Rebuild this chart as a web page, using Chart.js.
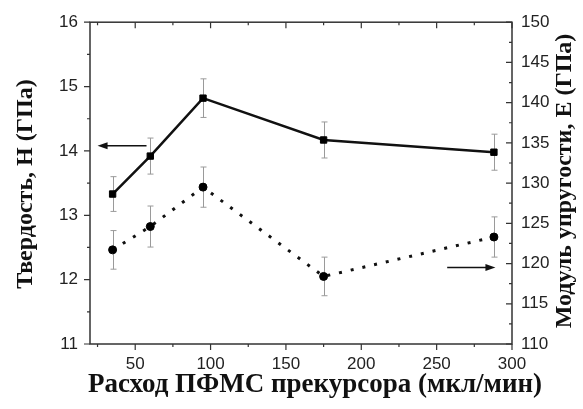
<!DOCTYPE html>
<html lang="ru">
<head>
  <meta charset="UTF-8">
  <title>Твердость и модуль упругости</title>
  <script src="https://cdn.jsdelivr.net/npm/chart.js"></script>
  <style>
    html, body { margin: 0; padding: 0; background: #fff; }
    .wrap { width: 583px; height: 409px; position: relative; }
  </style>
</head>
<body>
  <div class="wrap">
    <canvas id="chart"></canvas>
  </div>

  <script>
    // расход прекурсора, мкл/мин
    const flowRates = [35, 60, 95, 175, 288];
    // твердость H, ГПа (левая ось)
    const hardness = [13.33, 13.92, 14.82, 14.17, 13.98];
    const hardnessErr = [0.27, 0.28, 0.30, 0.28, 0.28];
    // модуль упругости E, ГПа (правая ось)
    const modulus = [121.7, 124.6, 129.5, 118.4, 123.3];
    const modulusErr = [2.4, 2.55, 2.5, 2.4, 2.5];

    const xTicks = [50, 100, 150, 200, 250, 300];
    const hTicks = [11, 12, 13, 14, 15, 16];
    const eTicks = [110, 115, 120, 125, 130, 135, 140, 145, 150];

    // стрелки, показывающие к какой оси относится кривая
    const hArrow = { from: 57.5, to: 25, y: 14.08 };
    const eArrow = { from: 257, to: 289, y: 119.5 };

    const axisColor = '#333';
    const tickFont = { family: '"Liberation Sans", Arial, sans-serif', size: 17 };
    const serif = '"Liberation Serif", "Times New Roman", serif';

    function halfSteps(ticks) {
      const out = [];
      for (let i = 0; i < ticks.length - 1; i++) out.push((ticks[i] + ticks[i + 1]) / 2);
      return out;
    }

    function arrow(ctx, x1, x2, y) {
      const dir = Math.sign(x2 - x1);
      ctx.beginPath();
      ctx.moveTo(x1, y);
      ctx.lineTo(x2 - dir * 6, y);
      ctx.stroke();
      ctx.beginPath();
      ctx.moveTo(x2, y);
      ctx.lineTo(x2 - dir * 10, y - 3.5);
      ctx.lineTo(x2 - dir * 10, y + 3.5);
      ctx.closePath();
      ctx.fill();
    }

    const errorBars = {
      id: 'errorBars',
      beforeDatasetsDraw(chart) {
        const { ctx, scales } = chart;
        const x = scales.x;
        const sets = [
          [hardness, hardnessErr, scales.yH],
          [modulus, modulusErr, scales.yE]
        ];
        ctx.save();
        ctx.strokeStyle = '#9a9a9a';
        ctx.lineWidth = 1;
        sets.forEach(([vals, errs, y]) => {
          vals.forEach((v, i) => {
            const px = Math.round(x.getPixelForValue(flowRates[i])) + 0.5;
            const top = y.getPixelForValue(v + errs[i]);
            const bot = y.getPixelForValue(v - errs[i]);
            ctx.beginPath();
            ctx.moveTo(px, top); ctx.lineTo(px, bot);
            ctx.moveTo(px - 3, top); ctx.lineTo(px + 3, top);
            ctx.moveTo(px - 3, bot); ctx.lineTo(px + 3, bot);
            ctx.stroke();
          });
        });
        ctx.restore();
      }
    };

    const frame = {
      id: 'frame',
      afterDraw(chart) {
        const { ctx, chartArea: a, scales } = chart;
        const x = scales.x, yH = scales.yH, yE = scales.yE;
        ctx.save();
        ctx.strokeStyle = axisColor;
        ctx.lineWidth = 1.5;
        ctx.strokeRect(a.left, a.top, a.right - a.left, a.bottom - a.top);

        ctx.lineWidth = 1.2;
        ctx.beginPath();
        // нижняя ось наружу, верхняя внутрь
        const xt = (v, len) => {
          const p = x.getPixelForValue(v);
          ctx.moveTo(p, a.bottom); ctx.lineTo(p, a.bottom + len);
          ctx.moveTo(p, a.top); ctx.lineTo(p, a.top + len);
        };
        xTicks.forEach(v => xt(v, 6));
        halfSteps([0].concat(xTicks)).forEach(v => { if (v > x.min) xt(v, 3); });
        // левая ось наружу
        const lt = (v, len) => {
          const p = yH.getPixelForValue(v);
          ctx.moveTo(a.left, p); ctx.lineTo(a.left - len, p);
        };
        hTicks.forEach(v => lt(v, 6));
        halfSteps(hTicks).forEach(v => lt(v, 3));
        // правая ось внутрь
        const rt = (v, len) => {
          const p = yE.getPixelForValue(v);
          ctx.moveTo(a.right, p); ctx.lineTo(a.right - len, p);
        };
        eTicks.forEach(v => rt(v, 6));
        halfSteps(eTicks).forEach(v => rt(v, 3));
        ctx.stroke();

        // стрелки
        ctx.strokeStyle = '#111';
        ctx.fillStyle = '#111';
        ctx.lineWidth = 1.5;
        arrow(ctx, x.getPixelForValue(hArrow.from), x.getPixelForValue(hArrow.to), yH.getPixelForValue(hArrow.y));
        arrow(ctx, x.getPixelForValue(eArrow.from), x.getPixelForValue(eArrow.to), yE.getPixelForValue(eArrow.y));

        // подписи осей
        ctx.fillStyle = '#111';
        ctx.textAlign = 'center';
        ctx.textBaseline = 'middle';
        ctx.font = 'bold 27px ' + serif;
        ctx.fillText('Расход ПФМС прекурсора (мкл/мин)', 315, 385);
        ctx.font = 'bold 24px ' + serif;
        ctx.save();
        ctx.translate(26, 184);
        ctx.rotate(-Math.PI / 2);
        ctx.fillText('Твердость, H (ГПа)', 0, 0);
        ctx.restore();
        ctx.save();
        ctx.translate(565, 181);
        ctx.rotate(-Math.PI / 2);
        ctx.fillText('Модуль упругости, E (ГПа)', 0, 0);
        ctx.restore();
        ctx.restore();
      }
    };

    const fixedTicks = list => scale => { scale.ticks = list.map(v => ({ value: v })); };

    new Chart(document.getElementById('chart'), {
      type: 'scatter',
      data: {
        datasets: [{
          label: 'H',
          data: flowRates.map((f, i) => ({ x: f, y: hardness[i] })),
          yAxisID: 'yH',
          showLine: true,
          borderColor: '#111',
          borderWidth: 2.5,
          pointStyle: 'rect',
          pointRadius: 4.5,
          pointBorderWidth: 1,
          pointBackgroundColor: '#000',
          pointBorderColor: '#000'
        }, {
          label: 'E',
          data: flowRates.map((f, i) => ({ x: f, y: modulus[i] })),
          yAxisID: 'yE',
          showLine: true,
          borderColor: '#111',
          borderWidth: 3,
          borderDash: [3, 9],
          pointStyle: 'circle',
          pointRadius: 4,
          pointBorderWidth: 1,
          pointBackgroundColor: '#000',
          pointBorderColor: '#000'
        }]
      },
      options: {
        responsive: true,
        maintainAspectRatio: false,
        animation: false,
        layout: { padding: { top: 19, left: 0, right: 0, bottom: 0 } },
        plugins: {
          legend: { display: false },
          tooltip: { enabled: false }
        },
        scales: {
          x: {
            type: 'linear',
            min: 20,
            max: 300,
            afterBuildTicks: fixedTicks(xTicks),
            afterFit: s => { s.height = 65; },
            grid: { display: false, drawTicks: false },
            border: { display: false },
            ticks: { font: tickFont, color: '#222', padding: 10, maxRotation: 0 }
          },
          yH: {
            type: 'linear',
            position: 'left',
            min: 11,
            max: 16,
            afterBuildTicks: fixedTicks(hTicks),
            afterFit: s => { s.width = 90; },
            grid: { display: false, drawTicks: false },
            border: { display: false },
            ticks: { font: tickFont, color: '#222', padding: 12 }
          },
          yE: {
            type: 'linear',
            position: 'right',
            min: 110,
            max: 150,
            afterBuildTicks: fixedTicks(eTicks),
            afterFit: s => { s.width = 71; },
            grid: { display: false, drawTicks: false },
            border: { display: false },
            ticks: { font: tickFont, color: '#222', padding: 9 }
          }
        }
      },
      plugins: [errorBars, frame]
    });
  </script>
</body>
</html>
